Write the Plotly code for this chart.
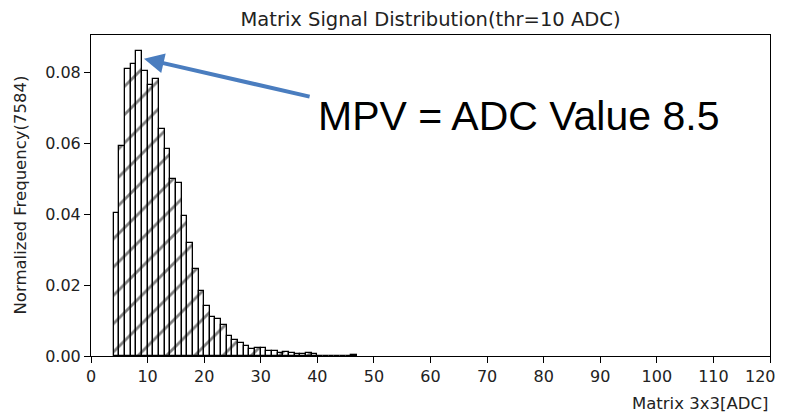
import plotly.graph_objects as go

# histogram: bin left edge (ADC) and normalized frequency
bin_start = [4, 5, 6, 7, 8, 9, 10, 11, 12, 13, 14, 15, 16, 17, 18, 19, 20, 21, 22, 23,
             24, 25, 26, 27, 28, 29, 30, 31, 32, 33, 34, 35, 36, 37, 38, 39, 40, 41, 42,
             43, 44, 45, 46]
freq = [0.0403, 0.0592, 0.0810, 0.0825, 0.0861, 0.0804, 0.0766, 0.0782, 0.0641, 0.0584,
        0.0500, 0.0488, 0.0396, 0.0319, 0.0245, 0.0185, 0.0141, 0.0111, 0.0105, 0.0088,
        0.0057, 0.0045, 0.0038, 0.0028, 0.0019, 0.0022, 0.0022, 0.0015, 0.0013, 0.0008,
        0.0010, 0.0008, 0.0007, 0.0005, 0.0009, 0.0005, 0.0, 0.0, 0.0, 0.0, 0.0, 0.0,
        0.0004]

x_ticks = [0, 10, 20, 30, 40, 50, 60, 70, 80, 90, 100, 110, 120]
# last label is drawn separately so it is not clipped at the window edge
x_tick_text = ["0", "10", "20", "30", "40", "50", "60", "70", "80", "90", "100", "110", ""]
last_tick_text = "120"

title = "Matrix Signal Distribution(thr=10 ADC)"
x_title = "Matrix 3x3[ADC]"
y_title = "Normalized Frequency(7584)"
mpv_text = "MPV = ADC Value 8.5"
mpv_tip = (9.36, 0.0840)
mpv_tail = (38.9, 0.0732)

font = "DejaVu Sans"

fig = go.Figure()
fig.add_trace(go.Bar(
    x=bin_start, y=freq, width=1, offset=0,
    marker=dict(color="white",
                line=dict(color="black", width=1.3),
                pattern=dict(shape="/", fgcolor="black", bgcolor="white",
                             size=20, solidity=0.14)),
    showlegend=False,
))

axis_common = dict(showline=True, linecolor="black", linewidth=1, mirror=True,
                   ticks="outside", ticklen=6, tickcolor="black", showgrid=False,
                   zeroline=False, automargin=False,
                   tickfont=dict(family=font, size=16, color="#222"))

# the page body adds an 8px margin, so the figure is made 8px smaller and shifted
fig.update_layout(
    width=779, height=407,
    margin=dict(l=83, r=17, t=27, b=59, autoexpand=False),
    paper_bgcolor="white", plot_bgcolor="white",
    bargap=0,
    title=dict(text=title, xref="paper", x=0.5, xanchor="center",
               y=0.972, yanchor="middle", automargin=False,
               font=dict(family=font, size=19.5, color="#222")),
    xaxis=dict(range=[0, 120], tickmode="array", tickvals=x_ticks,
               ticktext=x_tick_text, **axis_common),
    yaxis=dict(range=[0, 0.0907], dtick=0.02, tickformat=".2f", **axis_common),
)

fig.add_annotation(text=last_tick_text, xref="paper", yref="paper", x=1, y=0,
                   xanchor="right", yanchor="top", xshift=8, yshift=-9,
                   showarrow=False, font=dict(family=font, size=16, color="#222"))

fig.add_annotation(text=x_title, xref="paper", yref="paper", x=1, y=0,
                   xanchor="right", yanchor="top", yshift=-36, showarrow=False,
                   font=dict(family=font, size=16.5, color="#222"))

fig.add_annotation(text=y_title, xref="paper", yref="paper", x=0, y=0.5,
                   xanchor="center", yanchor="middle", xshift=-71, textangle=-90,
                   showarrow=False, font=dict(family=font, size=16.5, color="#222"))

fig.add_annotation(x=mpv_tip[0], y=mpv_tip[1], ax=mpv_tail[0], ay=mpv_tail[1],
                   xref="x", yref="y", axref="x", ayref="y", text="",
                   showarrow=True, arrowhead=2, arrowsize=1, arrowwidth=4,
                   arrowcolor="#4a7dbf")

fig.add_annotation(text=mpv_text, xref="paper", yref="paper", x=0.630, y=0.749,
                   xanchor="center", yanchor="middle", showarrow=False,
                   font=dict(family="Liberation Sans", size=41, color="black"))

fig.write_html("out.html")
